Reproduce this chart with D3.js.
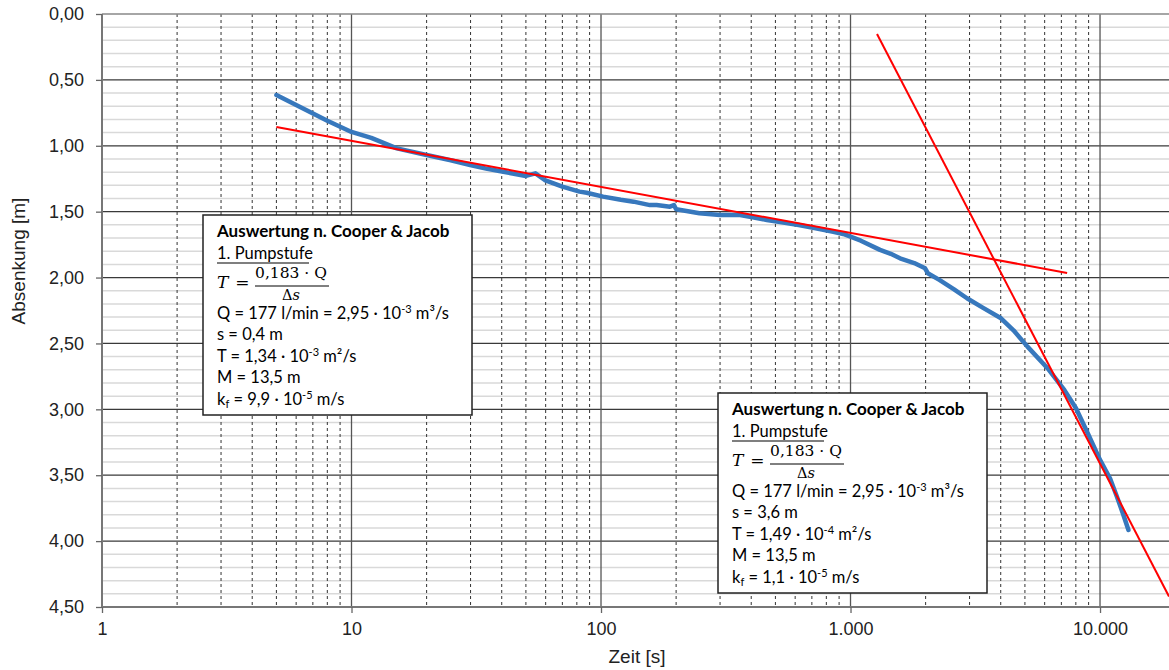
<!DOCTYPE html>
<html>
<head>
<meta charset="utf-8">
<script src="https://cdn.jsdelivr.net/npm/d3@7"></script>
<style>
  body { margin: 0; background: #fff; }
  svg { display: block; }
  .box text { font-family: Lato, "Open Sans", sans-serif; font-size: 16.5px; fill: #000; }
  .axis text { font-family: "Liberation Sans", Arial, sans-serif; font-size: 18px; fill: #222; }
</style>
</head>
<body>
<svg id="chart" width="1169" height="670"></svg>
<script>
// measured curve (Zeit [s] / Absenkung [m])
const timeS = [5, 6, 8, 10, 12, 15.2, 20, 25, 29.9, 35, 40.6, 50, 54.6, 59.5, 70, 82, 87.6, 102, 120, 135,
  157, 167, 189, 196, 200, 220, 248, 300, 361, 400, 462, 530, 620, 700, 853, 935, 1000, 1100, 1313, 1450,
  1579, 1800, 1990, 2040, 2270, 2600, 2930, 3400, 4010, 4500, 5120, 6160, 7190, 8000, 8930, 10000, 11000,
  11680, 12300, 13000];
const drawdown = [0.615, 0.69, 0.81, 0.895, 0.94, 1.02, 1.07, 1.11, 1.146, 1.175, 1.197, 1.229, 1.209, 1.26,
  1.31, 1.348, 1.356, 1.386, 1.41, 1.424, 1.45, 1.449, 1.462, 1.45, 1.482, 1.495, 1.512, 1.525, 1.525, 1.54,
  1.563, 1.58, 1.601, 1.62, 1.652, 1.669, 1.69, 1.72, 1.79, 1.82, 1.854, 1.89, 1.93, 1.967, 2.018, 2.09,
  2.157, 2.23, 2.309, 2.40, 2.524, 2.688, 2.853, 2.99, 3.181, 3.384, 3.53, 3.662, 3.78, 3.915];

// Cooper-Jacob straight lines [t, s]
const fitLine1 = [[5, 0.857], [7380, 1.965]];
const fitLine2 = [[1277, 0.152], [18900, 4.42]];

const yTicks = [0, 0.5, 1, 1.5, 2, 2.5, 3, 3.5, 4, 4.5];
const xTicks = [1, 10, 100, 1000, 10000];
const xTickLabels = ["1", "10", "100", "1.000", "10.000"];

// text box contents
const boxS   = ["0,4", "3,6"];
const boxT   = ["1,34", "1,49"];
const boxTex = ["-3", "-4"];
const boxKf  = ["9,9", "1,1"];

const svg = d3.select("#chart");
const L = 102, R = 1169, T = 14, B = 607;

const x = d3.scaleLog().domain([1, 18900]).range([L, R]);
const y = d3.scaleLinear().domain([0, 4.5]).range([T, B]);

svg.append("defs").append("clipPath").attr("id", "clip")
  .append("rect").attr("x", L).attr("y", T).attr("width", R - L).attr("height", B - T);

const grid = svg.append("g");

// horizontal minor grid every 0.1
grid.selectAll("line.hmin")
  .data(d3.range(1, 45).map(i => i / 10).filter(v => Math.round(v * 10) % 5 !== 0))
  .enter().append("line")
    .attr("x1", L).attr("x2", R)
    .attr("y1", d => y(d)).attr("y2", d => y(d))
    .attr("stroke", "#d9d9d9").attr("stroke-width", 1.5);

// vertical minor (dashed)
const minors = [];
[1, 10, 100, 1000, 10000].forEach(dec => {
  for (let k = 2; k <= 9; k++) if (dec * k < 18900) minors.push(dec * k);
});
grid.selectAll("line.vmin")
  .data(minors).enter().append("line")
    .attr("x1", d => x(d)).attr("x2", d => x(d))
    .attr("y1", T).attr("y2", B)
    .attr("stroke", "#333").attr("stroke-width", 1)
    .attr("stroke-dasharray", "3,3");

// horizontal majors
grid.selectAll("line.hmaj")
  .data(yTicks.slice(1, -1)).enter().append("line")
    .attr("x1", L).attr("x2", R)
    .attr("y1", d => y(d)).attr("y2", d => y(d))
    .attr("stroke", "#3a3a3a").attr("stroke-width", 1.3);

// vertical majors
grid.selectAll("line.vmaj")
  .data(xTicks.slice(1)).enter().append("line")
    .attr("x1", d => x(d)).attr("x2", d => x(d))
    .attr("y1", T).attr("y2", B)
    .attr("stroke", "#555").attr("stroke-width", 1.3);

// top border
grid.append("line").attr("x1", L).attr("x2", R).attr("y1", T).attr("y2", T)
  .attr("stroke", "#888").attr("stroke-width", 1.5);

// axes
const yAxis = svg.append("g").attr("class", "axis")
  .attr("transform", `translate(${L},0)`)
  .call(d3.axisLeft(y).tickValues(yTicks).tickSize(6).tickPadding(12)
    .tickFormat(d => d.toFixed(2).replace(".", ",")));
const xAxis = svg.append("g").attr("class", "axis")
  .attr("transform", `translate(0,${B})`)
  .call(d3.axisBottom(x).tickValues(xTicks).tickSize(6).tickPadding(9)
    .tickFormat((d, i) => xTickLabels[i]));
[yAxis, xAxis].forEach(a => {
  a.select(".domain").attr("stroke", "#777").attr("stroke-width", 2);
  a.selectAll(".tick line").attr("stroke", "#666").attr("stroke-width", 1.3);
});
xAxis.select(".domain").attr("d", `M${L},0H${R}`);
yAxis.select(".domain").attr("d", `M0,${T}V${B}`);

svg.append("text").attr("class", "axis")
  .attr("x", 637).attr("y", 663).attr("text-anchor", "middle")
  .style("font-family", "'Liberation Sans', Arial, sans-serif").style("font-size", "19px").attr("fill", "#222")
  .text("Zeit [s]");
svg.append("text")
  .attr("transform", "translate(25,261) rotate(-90)").attr("text-anchor", "middle")
  .style("font-family", "'Liberation Sans', Arial, sans-serif").style("font-size", "19px").attr("fill", "#222")
  .text("Absenkung [m]");

// data curve + fit lines
const plot = svg.append("g").attr("clip-path", "url(#clip)");
const line = d3.line().x(d => x(d[0])).y(d => y(d[1]));

plot.append("path")
  .datum(timeS.map((t, i) => [t, drawdown[i]]))
  .attr("d", line)
  .attr("fill", "none").attr("stroke", "#3778bd").attr("stroke-width", 4.5)
  .attr("stroke-linejoin", "round").attr("stroke-linecap", "round");

[fitLine1, fitLine2].forEach(f => {
  plot.append("path").datum(f).attr("d", line)
    .attr("fill", "none").attr("stroke", "#ff0000").attr("stroke-width", 2);
});

// annotation boxes
const boxPos = [[203, 215], [718, 393]];
boxPos.forEach(([bx, by], i) => {
  const g = svg.append("g").attr("class", "box").attr("transform", `translate(${bx},${by})`);
  g.append("rect").attr("width", 269).attr("height", 200)
    .attr("fill", "#fff").attr("stroke", "#222").attr("stroke-width", 1.5);
  const tx = 14;
  g.append("text").attr("x", tx).attr("y", 22).style("font-weight", "bold").style("font-size", "17px")
    .text("Auswertung n. Cooper & Jacob");
  g.append("text").attr("x", tx).attr("y", 44).text("1. Pumpstufe");
  g.append("line").attr("x1", tx).attr("x2", tx + 92).attr("y1", 48).attr("y2", 48)
    .attr("stroke", "#000").attr("stroke-width", 1.2);

  // formula
  const serif = "'DejaVu Serif', 'Liberation Serif', serif";
  g.append("text").attr("x", tx).attr("y", 73)
    .style("font-family", serif).style("font-size", "17px").style("font-style", "italic")
    .text("T").append("tspan").style("font-style", "normal").attr("dx", 7).text("=");
  g.append("text").attr("x", 88).attr("y", 63).attr("text-anchor", "middle")
    .style("font-family", serif).style("font-size", "15.5px").text("0,183 · Q");
  g.append("line").attr("x1", 52).attr("x2", 126).attr("y1", 71).attr("y2", 71)
    .attr("stroke", "#000").attr("stroke-width", 1);
  const den = g.append("text").attr("x", 88).attr("y", 85).attr("text-anchor", "middle")
    .style("font-family", serif).style("font-size", "14.5px");
  den.append("tspan").text("Δ");
  den.append("tspan").style("font-style", "italic").text("s");

  const sup = (el, s) => el.append("tspan").attr("dy", -6).style("font-size", "11px").text(s);
  const back = (el, s) => el.append("tspan").attr("dy", 6).text(s);

  const q = g.append("text").attr("x", tx).attr("y", 104);
  q.append("tspan").text("Q = 177 l/min = 2,95 · 10");
  sup(q, "-3"); back(q, " m³/s");

  g.append("text").attr("x", tx).attr("y", 125).text(`s = ${boxS[i]} m`);

  const tt = g.append("text").attr("x", tx).attr("y", 147);
  tt.append("tspan").text(`T = ${boxT[i]} · 10`);
  sup(tt, boxTex[i]); back(tt, " m²/s");

  g.append("text").attr("x", tx).attr("y", 168).text("M = 13,5 m");

  const kf = g.append("text").attr("x", tx).attr("y", 190);
  kf.append("tspan").text("k");
  kf.append("tspan").attr("dy", 3).style("font-size", "11px").text("f");
  kf.append("tspan").attr("dy", -3).text(` = ${boxKf[i]} · 10`);
  sup(kf, "-5"); back(kf, " m/s");
});
</script>
</body>
</html>
